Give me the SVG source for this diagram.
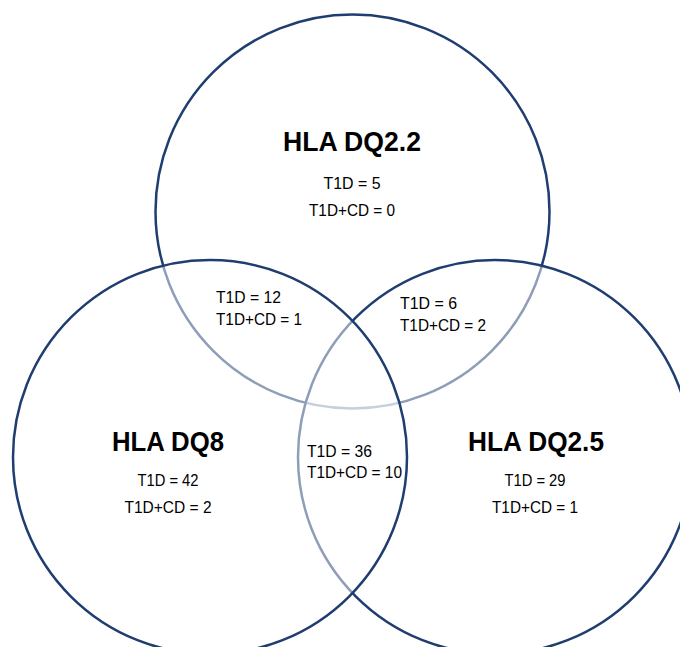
<svg xmlns="http://www.w3.org/2000/svg" width="680" height="647" viewBox="0 0 680 647">
<style>
.c{fill:#ffffff;fill-opacity:0.5;stroke:#1f3d70;stroke-width:2.5}
.t{font-family:"Liberation Sans",Arial,sans-serif;font-weight:bold;font-size:28.5px;fill:#000;text-anchor:middle}
.s{font-family:"Liberation Sans",Arial,sans-serif;font-size:16px;fill:#000}
.m{text-anchor:middle}
</style>
<rect width="680" height="647" fill="#ffffff"/>
<g id="connectors"></g>
<g id="circle-dq22"><circle class="c" cx="352.5" cy="211.5" r="197"/></g>
<g id="circle-dq25"><circle class="c" cx="495" cy="457" r="197"/></g>
<g id="circle-dq8"><circle class="c" cx="210" cy="457" r="197"/></g>
<g id="node-dq22">
<text class="t" x="352" y="151" textLength="138" lengthAdjust="spacingAndGlyphs">HLA DQ2.2</text>
<text class="s m" x="352" y="189" textLength="57" lengthAdjust="spacingAndGlyphs">T1D = 5</text>
<text class="s m" x="352" y="216" textLength="86" lengthAdjust="spacingAndGlyphs">T1D+CD = 0</text>
</g>
<g id="node-dq8">
<text class="t" x="168" y="451" textLength="112" lengthAdjust="spacingAndGlyphs">HLA DQ8</text>
<text class="s m" x="168" y="486" textLength="61" lengthAdjust="spacingAndGlyphs">T1D = 42</text>
<text class="s m" x="168" y="513" textLength="87" lengthAdjust="spacingAndGlyphs">T1D+CD = 2</text>
</g>
<g id="node-dq25">
<text class="t" x="536" y="451" textLength="136" lengthAdjust="spacingAndGlyphs">HLA DQ2.5</text>
<text class="s m" x="535" y="486" textLength="61" lengthAdjust="spacingAndGlyphs">T1D = 29</text>
<text class="s m" x="535" y="513" textLength="86" lengthAdjust="spacingAndGlyphs">T1D+CD = 1</text>
</g>
<g id="node-dq22-dq8">
<text class="s" x="216" y="303" textLength="65" lengthAdjust="spacingAndGlyphs">T1D = 12</text>
<text class="s" x="216" y="325" textLength="86" lengthAdjust="spacingAndGlyphs">T1D+CD = 1</text>
</g>
<g id="node-dq22-dq25">
<text class="s" x="400" y="309" textLength="57" lengthAdjust="spacingAndGlyphs">T1D = 6</text>
<text class="s" x="400" y="331" textLength="86" lengthAdjust="spacingAndGlyphs">T1D+CD = 2</text>
</g>
<g id="node-all">
<text class="s" x="307" y="457" textLength="65" lengthAdjust="spacingAndGlyphs">T1D = 36</text>
<text class="s" x="307" y="478" textLength="95" lengthAdjust="spacingAndGlyphs">T1D+CD = 10</text>
</g>
</svg>
